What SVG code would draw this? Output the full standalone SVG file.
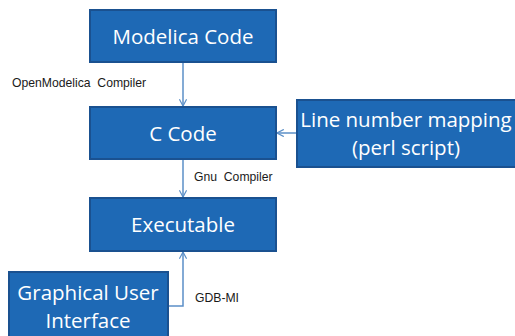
<svg xmlns="http://www.w3.org/2000/svg" width="515" height="336" viewBox="0 0 515 336">
<defs>
<style>
.box{fill:#1E69B5;stroke:#1A5190;stroke-width:2}
.bt{font-family:"Open Sans","Liberation Sans",sans-serif;font-size:20.5px;fill:#FFFFFF;text-anchor:middle}
.lbl{font-family:"Liberation Sans",Arial,sans-serif;font-size:12.2px;fill:#1A1A1A;white-space:pre}
.conn{fill:none;stroke:#5B8FC7;stroke-width:1.5}
</style>
<marker id="arr" viewBox="0 0 10 10" refX="9.5" refY="5" markerWidth="8" markerHeight="8" markerUnits="userSpaceOnUse" orient="auto">
<path d="M1,0.5 L9.5,5 L1,9.5" fill="none" stroke="#5B8FC7" stroke-width="1.5"/>
</marker>
</defs>
<rect width="515" height="336" fill="#FFFFFF"/>
<g id="connectors">
<line class="conn" x1="183" y1="62" x2="183" y2="106" marker-end="url(#arr)"/>
<line class="conn" x1="297" y1="133" x2="277" y2="133" marker-end="url(#arr)"/>
<line class="conn" x1="183" y1="159" x2="183" y2="197" marker-end="url(#arr)"/>
<polyline class="conn" points="168,306 183,306 183,252" marker-end="url(#arr)"/>
<text class="lbl" x="12" y="87" xml:space="preserve">OpenModelica  Compiler</text>
<text class="lbl" x="194" y="181" xml:space="preserve">Gnu  Compiler</text>
<text class="lbl" x="195" y="302">GDB-MI</text>
</g>
<g id="modelica">
<rect class="box" x="90" y="10" width="186" height="52"/>
<text class="bt" x="183" y="44">Modelica Code</text>
</g>
<g id="ccode">
<rect class="box" x="90" y="107" width="186" height="52"/>
<text class="bt" x="183" y="141">C Code</text>
</g>
<g id="linemap">
<rect class="box" x="297" y="100" width="220" height="67"/>
<text class="bt" x="406" y="127">Line number mapping</text>
<text class="bt" x="406" y="155">(perl script)</text>
</g>
<g id="executable">
<rect class="box" x="90" y="198" width="186" height="53"/>
<text class="bt" x="183" y="232">Executable</text>
</g>
<g id="gui">
<rect class="box" x="9" y="272" width="159" height="70"/>
<text class="bt" x="88" y="300">Graphical User</text>
<text class="bt" x="88" y="328">Interface</text>
</g>
</svg>
